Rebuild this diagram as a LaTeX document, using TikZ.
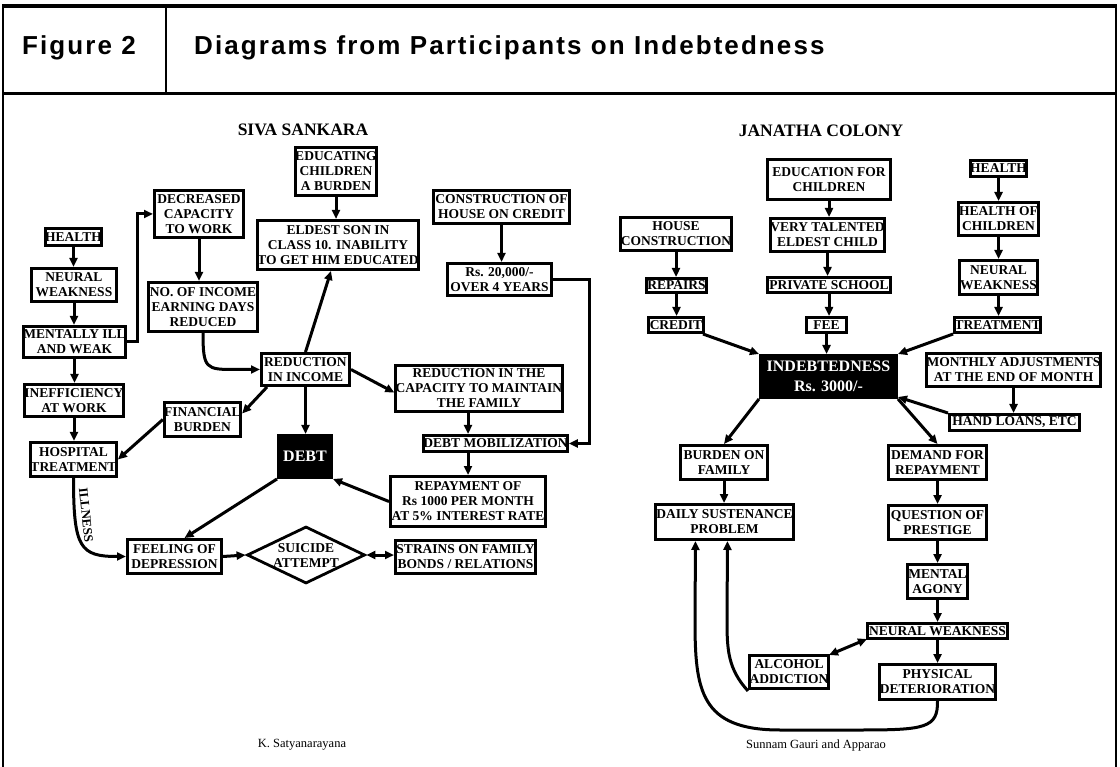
\documentclass[tikz,border=0pt]{standalone}
\usepackage{fontspec}
\setmainfont{Liberation Serif}
\newfontfamily\hdfont[LetterSpace=8]{Liberation Sans}
\usetikzlibrary{arrows.meta,shapes.geometric}
\newcommand\bxfont{\bfseries\fontsize{13.5}{15}\selectfont}
\newcommand\dkfont{\bfseries\fontsize{16}{20}\selectfont}
\newcommand\ttlfont{\bfseries\fontsize{17.5}{20}\selectfont}
\newcommand\capfont{\fontsize{12.5}{14}\selectfont}
\newcommand\hdrfont{\hdfont\bfseries\fontsize{26}{30}\selectfont}
\newcommand{\bx}[7]{\node[#2, minimum width={#5-#3-2.8}, minimum height={#6-#4-2.8}] (#1) at ({(#3+#5)/2},{(#4+#6)/2}) {#7};}
\begin{document}
\begin{tikzpicture}[x=1pt,y=-1pt,
  box/.style={draw, line width=2.8pt, fill=white, inner sep=0pt, align=center, font=\bxfont},
  dark/.style={draw, line width=2.8pt, fill=black, text=white, inner sep=0pt, align=center, font=\dkfont},
  arr/.style={line width=3pt, -{Triangle[length=9pt,width=8pt]}},
  darr/.style={line width=3pt, {Triangle[length=9pt,width=8pt]}-{Triangle[length=9pt,width=8pt]}},
  frame/.style={line width=2pt},
  ttl/.style={font=\ttlfont, inner sep=0pt},
  capt/.style={font=\capfont, inner sep=0pt}]
\useasboundingbox (0,0) rectangle (1120,767);
% frame and header
\draw[line width=3.2pt] (2,6) -- (1117,6);
\draw[frame] (3,5) -- (3,767);
\draw[frame] (1116,5) -- (1116,767);
\draw[frame] (166,6) -- (166,94);
\draw[line width=3pt] (2,94) -- (1117,94);
\node[font=\hdrfont, anchor=base west, inner sep=0pt] (hfig) at (22,55) {Figure 2};
\node[font=\hdrfont, anchor=base west, inner sep=0pt] (httl) at (194,55) {Diagrams from Participants on Indebtedness};
% titles and captions
\node[ttl] (tsiva) at (303,130) {SIVA SANKARA};
\node[ttl] (tjan) at (821,131) {JANATHA COLONY};
\node[capt] (csat) at (302,745) {K. Satyanarayana};
\node[capt] (csun) at (816,745) {Sunnam Gauri and Apparao};
% ---------- left diagram ----------
\bx{lhealth}{box}{44}{227}{103}{247}{HEALTH}
\bx{lneural}{box}{30}{267}{118}{303}{NEURAL\\WEAKNESS}
\bx{lment}{box}{25}{325}{124}{359}{MENTALLY ILL\\AND WEAK}
\bx{lineff}{box}{25}{383}{123}{418}{INEFFICIENCY\\AT WORK}
\bx{lhosp}{box}{30}{441}{117}{478}{HOSPITAL\\TREATMENT}
\bx{ldecr}{box}{153}{189}{245}{239}{DECREASED\\CAPACITY\\TO WORK}
\bx{lnoinc}{box}{147}{281}{259}{333}{NO. OF INCOME\\EARNING DAYS\\REDUCED}
\bx{lfin}{box}{163}{401}{242}{438}{FINANCIAL\\BURDEN}
\bx{ledu}{box}{294}{146}{378}{197}{EDUCATING\\CHILDREN\\A BURDEN}
\bx{leld}{box}{257}{219}{419}{271}{ELDEST SON IN\\CLASS 10. INABILITY\\TO GET HIM EDUCATED}
\bx{lcons}{box}{432}{189}{571}{225}{CONSTRUCTION OF\\HOUSE ON CREDIT}
\bx{lrs}{box}{446}{262}{553}{297}{Rs. 20,000/-\\OVER 4 YEARS}
\bx{lred}{box}{260}{352}{351}{387}{REDUCTION\\IN INCOME}
\bx{lcap}{box}{395}{364}{563}{413}{REDUCTION IN THE\\CAPACITY TO MAINTAIN\\THE FAMILY}
\bx{ldmob}{box}{424}{434}{567}{453}{DEBT MOBILIZATION}
\bx{lrep}{box}{389}{475}{547}{528}{REPAYMENT OF\\Rs 1000 PER MONTH\\AT 5\% INTEREST RATE}
\bx{ldebt}{dark}{277}{434}{333}{479}{DEBT}
\bx{lfeel}{box}{126}{538}{223}{575}{FEELING OF\\DEPRESSION}
\bx{lstr}{box}{394}{539}{537}{575}{STRAINS ON FAMILY\\BONDS / RELATIONS}
\node[diamond, draw, line width=2.8pt, fill=white, minimum width=118, minimum height=57, inner sep=0pt] (lsui) at (306,555) {};
\node[font=\bxfont, align=center, inner sep=0pt] (lsuit) at (306,556) {SUICIDE\\ATTEMPT};
\node[font=\bfseries\fontsize{13}{13}\selectfont, rotate=-84, inner sep=0pt] (lill) at (86,515) {ILLNESS};
% left connectors
\draw[arr] (lhealth.south) -- (lhealth.south |- lneural.north);
\draw[arr] (lneural.south) -- (lneural.south |- lment.north);
\draw[arr] (lment.south) -- (lment.south |- lineff.north);
\draw[arr] (lineff.south) -- (lineff.south |- lhosp.north);
\draw[arr] (lment.east) -- ++(10,0) |- (ldecr.west);
\draw[arr] (ldecr.south) -- (ldecr.south |- lnoinc.north);
\draw[arr] (lnoinc.south) .. controls ([yshift=-36]lnoinc.south) and (206,369.5) .. (235,369.5) -- (lred.west);
\draw[arr] ([xshift=7]lred.south west) -- ([yshift=6]lfin.east);
\draw[arr] (lfin.west) -- (lhosp.east);
\draw[arr] (lred.north) -- ([xshift=-7]leld.south);
\draw[arr] (ledu.south) -- (ledu.south |- leld.north);
\draw[arr] (lred.east) -- ([yshift=-4]lcap.west);
\draw[arr] (lred.south) -- (lred.south |- ldebt.north);
\draw[arr] (lcap.south -| lrep.north) -- (ldmob.north -| lrep.north);
\draw[arr] (ldmob.south -| lrep.north) -- (lrep.north);
\draw[arr] (lcons.south) -- (lcons.south |- lrs.north);
\draw[arr] (lrs.east) -- ++(36,0) |- (ldmob.east);
\draw[arr] (lrep.west) -- (ldebt.south east);
\draw[arr] (ldebt.south west) -- ([xshift=10]lfeel.north);
\draw[arr] (lhosp.south) .. controls ([yshift=-70]lhosp.south) and (80,556.5) .. (lfeel.west);
\draw[arr] (lfeel.east) -- (lsui.west);
\draw[darr] (lsui.east) -- (lsui.east -| lstr.west);
% ---------- right diagram ----------
\bx{redu}{box}{766}{158}{892}{201}{EDUCATION FOR\\CHILDREN}
\bx{rtal}{box}{769}{217}{886}{253}{VERY TALENTED\\ELDEST CHILD}
\bx{rpriv}{box}{766}{276}{892}{294}{PRIVATE SCHOOL}
\bx{rfee}{box}{805}{316}{848}{334}{FEE}
\bx{rhouse}{box}{620}{216}{732}{252}{HOUSE\\CONSTRUCTION}
\bx{rrep}{box}{645}{277}{708}{294}{REPAIRS}
\bx{rcred}{box}{647}{316}{705}{334}{CREDIT}
\bx{rhealth}{box}{969}{159}{1028}{178}{HEALTH}
\bx{rhoc}{box}{957}{201}{1040}{237}{HEALTH OF\\CHILDREN}
\bx{rneur}{box}{958}{259}{1039}{296}{NEURAL\\WEAKNESS}
\bx{rtreat}{box}{954}{316}{1041}{334}{TREATMENT}
\bx{rind}{dark}{759}{354}{898}{399}{INDEBTEDNESS\\Rs. 3000/-}
\bx{rmon}{box}{927}{352}{1100}{388}{MONTHLY ADJUSTMENTS\\AT THE END OF MONTH}
\bx{rhand}{box}{948}{413}{1081}{432}{HAND LOANS, ETC}
\bx{rbur}{box}{679}{444}{769}{481}{BURDEN ON\\FAMILY}
\bx{rdem}{box}{887}{444}{988}{481}{DEMAND FOR\\REPAYMENT}
\bx{rdaily}{box}{654}{503}{795}{541}{DAILY SUSTENANCE\\PROBLEM}
\bx{rques}{box}{887}{504}{988}{541}{QUESTION OF\\PRESTIGE}
\bx{rment}{box}{906}{563}{969}{600}{MENTAL\\AGONY}
\bx{rnw}{box}{866}{622}{1009}{640}{NEURAL WEAKNESS}
\bx{ralc}{box}{748}{654}{830}{690}{ALCOHOL\\ADDICTION}
\bx{rphys}{box}{880}{663}{995}{701}{PHYSICAL\\DETERIORATION}
% right connectors
\draw[arr] (redu.south) -- (redu.south |- rtal.north);
\draw[arr] (rtal.south) -- (rtal.south |- rpriv.north);
\draw[arr] (rpriv.south) -- (rpriv.south |- rfee.north);
\draw[arr] (rfee.south) -- (rfee.south |- rind.north);
\draw[arr] (rhouse.south) -- (rhouse.south |- rrep.north);
\draw[arr] (rrep.south) -- (rrep.south |- rcred.north);
\draw[arr] (rhealth.south) -- (rhealth.south |- rhoc.north);
\draw[arr] (rhoc.south) -- (rhoc.south |- rneur.north);
\draw[arr] (rneur.south) -- (rneur.south |- rtreat.north);
\draw[arr] ([xshift=-2]rcred.south east) -- (rind.north west);
\draw[arr] (rtreat.south west) -- (rind.north east);
\draw[arr] (rind.south west) -- (rbur.north);
\draw[arr] (rind.south east) -- (rdem.north);
\draw[arr] (rhand.north west) -- ([yshift=2]rind.south east);
\draw[arr] (rmon.south) -- (rmon.south |- rhand.north);
\draw[arr] (rbur.south) -- (rbur.south |- rdaily.north);
\draw[arr] (rdem.south) -- (rdem.south |- rques.north);
\draw[arr] (rques.south) -- (rques.south |- rment.north);
\draw[arr] (rment.south) -- (rment.south |- rnw.north);
\draw[arr] (rnw.south) -- (rnw.south |- rphys.north);
\draw[darr] ([xshift=1,yshift=1]rnw.south west) -- ([xshift=-1,yshift=-1]ralc.north east);
\draw[arr] ([yshift=-19]ralc.west) .. controls (728,669) and (727,650) .. (727,620) -- ([xshift=3]rdaily.south);
\draw[arr] (rphys.south) .. controls (938,728) and (925,730) .. (860,730) -- (780,730) .. controls (700,730) and (695,690) .. (695,620) -- ([xshift=-29]rdaily.south);
\end{tikzpicture}
\end{document}
